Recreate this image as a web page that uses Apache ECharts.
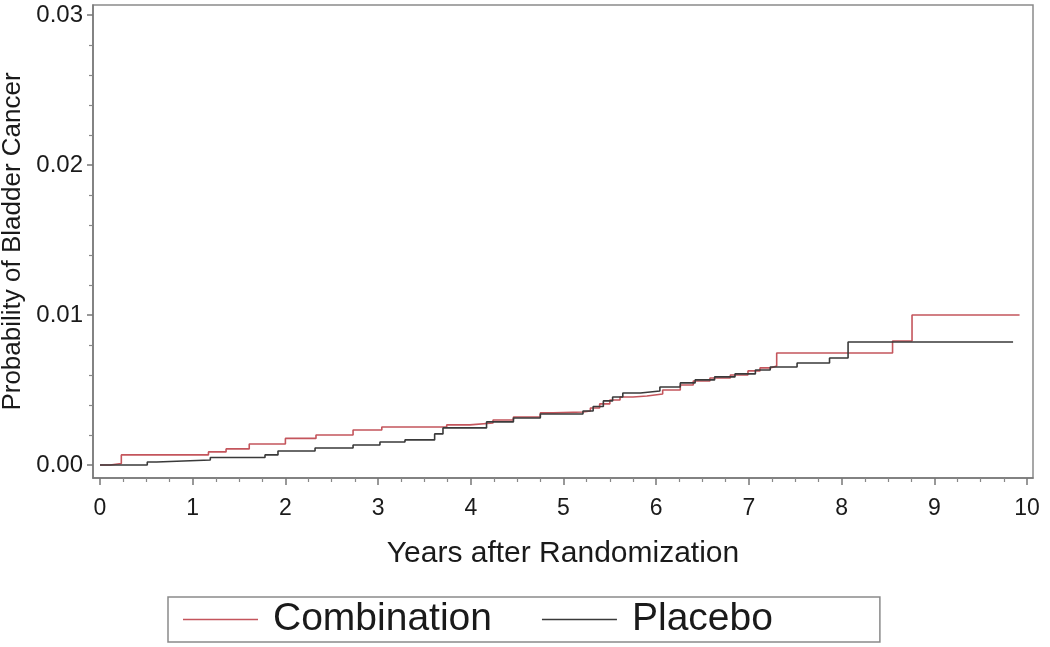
<!DOCTYPE html>
<html>
<head>
<meta charset="utf-8">
<script src="https://cdn.jsdelivr.net/npm/echarts@6/dist/echarts.min.js"></script>
<style>
  html, body { margin: 0; padding: 0; background: #fff; }
  #chart { width: 1050px; height: 647px; }
</style>
</head>
<body>
<div id="chart"></div>
<script>
// tick labels
const xTicks = [0, 1, 2, 3, 4, 5, 6, 7, 8, 9, 10]
const xMinorTicks = [0.25, 0.5, 0.75, 1.25, 1.5, 1.75, 2.25, 2.5, 2.75, 3.25, 3.5, 3.75, 4.25, 4.5, 4.75, 5.25, 5.5, 5.75, 6.25, 6.5, 6.75, 7.25, 7.5, 7.75, 8.25, 8.5, 8.75, 9.25, 9.5, 9.75]
const yTicks = [0, 0.01, 0.02, 0.03]
const yMinorTicks = [0.002, 0.004, 0.006, 0.008, 0.012, 0.014, 0.016, 0.018, 0.022, 0.024, 0.026, 0.028]

// Combination (step curve, value holds from time onward)
const combTimes = [0, 0.11, 0.23, 1.17, 1.36, 1.61, 2.0, 2.33, 2.73, 3.04, 3.74, 3.99, 4.24, 4.46, 4.75, 4.89, 5.21, 5.29, 5.39, 5.5, 5.61, 5.75, 5.9, 6.07, 6.26, 6.4, 6.58, 6.8, 6.99, 7.12, 7.23, 7.3, 8.55, 8.76, 9.92]
const combProb = [0, 0.0001, 0.00067, 0.00087, 0.00107, 0.0014, 0.00177, 0.002, 0.00233, 0.00253, 0.00267, 0.0028, 0.003, 0.0032, 0.00347, 0.00353, 0.0036, 0.0038, 0.00407, 0.00433, 0.00453, 0.0046, 0.00473, 0.005, 0.00533, 0.0056, 0.0058, 0.006, 0.00627, 0.00647, 0.0066, 0.00747, 0.00827, 0.01, 0.01]

// Placebo
const placTimes = [0, 0.51, 0.61, 1.19, 1.78, 1.92, 2.32, 2.73, 3.02, 3.29, 3.61, 3.7, 4.17, 4.46, 4.75, 5.21, 5.32, 5.43, 5.53, 5.64, 5.83, 6.04, 6.26, 6.42, 6.63, 6.85, 7.07, 7.23, 7.52, 7.87, 8.07, 9.85]
const placProb = [0, 0.0002, 0.00033, 0.0005, 0.00067, 0.00093, 0.00113, 0.00133, 0.00153, 0.00167, 0.00207, 0.00247, 0.00287, 0.00313, 0.0034, 0.0036, 0.0039, 0.00427, 0.00453, 0.0048, 0.00493, 0.0052, 0.00547, 0.00567, 0.00587, 0.00607, 0.00633, 0.00653, 0.0068, 0.00713, 0.0082, 0.0082]

const font = 'Liberation Sans, Arial, Helvetica, sans-serif'
const xMin = -0.0755
const xMax = 10.065
const yMin = -0.00087
const yMax = 0.03067

const chart = echarts.init(document.getElementById('chart'))

chart.setOption({
  animation: false,
  backgroundColor: '#fff',
  textStyle: { fontFamily: font },
  grid: {
    left: 93,
    right: 17,
    top: 5,
    bottom: 169,
    outerBoundsMode: 'none',
    show: true,
    borderColor: '#8a8a8a',
    borderWidth: 1.5,
    backgroundColor: 'transparent',
  },
  legend: {
    left: 168,
    top: 597,
    data: ['Combination', 'Placebo'],
    icon: 'rect',
    itemWidth: 75,
    itemHeight: 1.6,
    itemGap: 50,
    padding: [3, 107, 3, 15],
    borderColor: '#8a8a8a',
    borderWidth: 1.5,
    textStyle: { fontSize: 39, color: '#1a1a1a', fontFamily: font, padding: [0, 0, 0, 10] },
  },
  xAxis: [
    {
      type: 'value',
      min: xMin,
      max: xMax,
      position: 'bottom',
      name: 'Years after Randomization',
      nameLocation: 'middle',
      nameGap: 61,
      nameTextStyle: { fontSize: 30, color: '#1a1a1a', fontFamily: font },
      splitLine: { show: false },
      axisLine: { onZero: false, lineStyle: { color: '#777', width: 1.5 } },
      axisTick: { customValues: xTicks, length: 7, lineStyle: { color: '#777', width: 1.5 } },
      axisLabel: {
        customValues: xTicks,
        margin: 19,
        fontSize: 23,
        color: '#1a1a1a',
        fontFamily: font,
      },
    },
    {
      type: 'value',
      min: xMin,
      max: xMax,
      position: 'bottom',
      offset: 0,
      splitLine: { show: false },
      axisLine: { show: false, onZero: false },
      axisTick: { customValues: xMinorTicks, length: 4, lineStyle: { color: '#888', width: 1.2 } },
      axisLabel: { show: false },
    },
  ],
  yAxis: [
    {
      type: 'value',
      min: yMin,
      max: yMax,
      position: 'left',
      name: 'Probability of Bladder Cancer',
      nameLocation: 'middle',
      nameGap: 63,
      nameTextStyle: { fontSize: 26, color: '#1a1a1a', fontFamily: font },
      splitLine: { show: false },
      axisLine: { onZero: false, lineStyle: { color: '#777', width: 1.5 } },
      axisTick: { customValues: yTicks, length: 6, lineStyle: { color: '#777', width: 1.5 } },
      axisLabel: {
        customValues: yTicks,
        margin: 10,
        fontSize: 24,
        color: '#1a1a1a',
        fontFamily: font,
        formatter: v => v.toFixed(2),
      },
    },
    {
      type: 'value',
      min: yMin,
      max: yMax,
      position: 'left',
      offset: 0,
      splitLine: { show: false },
      axisLine: { show: false, onZero: false },
      axisTick: { customValues: yMinorTicks, length: 4, lineStyle: { color: '#888', width: 1.2 } },
      axisLabel: { show: false },
    },
  ],
  series: [
    {
      name: 'Combination',
      type: 'line',
      step: 'end',
      showSymbol: false,
      symbol: 'none',
      color: '#c4555c',
      lineStyle: { color: '#c4555c', width: 1.6 },
      data: combTimes.map((t, i) => [t, combProb[i]]),
    },
    {
      name: 'Placebo',
      type: 'line',
      step: 'end',
      showSymbol: false,
      symbol: 'none',
      color: '#3a3a3a',
      lineStyle: { color: '#3a3a3a', width: 1.6 },
      data: placTimes.map((t, i) => [t, placProb[i]]),
    },
  ],
})
</script>
</body>
</html>
